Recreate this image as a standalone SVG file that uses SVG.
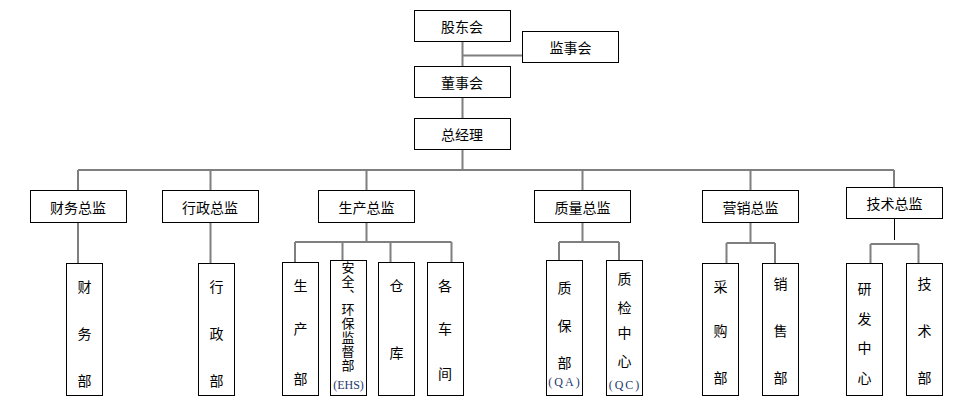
<svg xmlns="http://www.w3.org/2000/svg" width="961" height="407" viewBox="0 0 961 407">
<style>
.box{fill:#fff;stroke:#000;stroke-width:1}
.ln{stroke:#7f7f7f;stroke-width:2;fill:none}
.lk{stroke:#000;stroke-width:1;fill:none}
.t{font-family:"Noto Sans CJK SC","Noto Sans",sans-serif;font-size:14px;fill:#000;text-anchor:middle;dominant-baseline:central}
.v{font-family:"Noto Sans CJK SC","Noto Sans",sans-serif;font-size:13px;fill:#000;writing-mode:vertical-rl;text-anchor:start;letter-spacing:1px}
.e{font-family:"Liberation Serif",serif;font-size:12px;fill:#1f3a6e;text-anchor:middle;dominant-baseline:central}
</style>
<rect width="961" height="407" fill="#fff"/>
<g id="connectors">
<path class="ln" d="M462.5 41V118M462.5 55.5H522M462.5 149V170M78 170H894"/>
<path class="ln" d="M78 170V190M210.5 170V190M366.5 170V190M582.5 170V190M750.5 170V190M894 170V187"/>
<path class="ln" d="M78 222V263M210.5 222V263"/>
<path class="ln" d="M366.5 222V242M295 242H451.5M295 242V262M342.5 242V260M390.5 242V262M451.5 242V262"/>
<path class="ln" d="M582.5 222V242M559 242H619M559 242V260M619 242V260"/>
<path class="ln" d="M750.5 222V243M726.5 243H775M726.5 243V263M775 243V263"/>
<path class="lk" d="M894.5 218V240"/>
<path class="ln" d="M870.5 244H918.5M870.5 244V263M918.5 244V263"/>
</g>
<g id="n-gudonghui"><rect class="box" x="414.5" y="10.5" width="96" height="31"/><text class="t" x="462" y="26">股东会</text></g>
<g id="n-jianshihui"><rect class="box" x="522.5" y="31.5" width="96" height="31"/><text class="t" x="570.5" y="47">监事会</text></g>
<g id="n-dongshihui"><rect class="box" x="414.5" y="66.5" width="96" height="31"/><text class="t" x="462" y="82">董事会</text></g>
<g id="n-zongjingli"><rect class="box" x="414.5" y="118.5" width="96" height="31"/><text class="t" x="462" y="134">总经理</text></g>

<g id="n-caiwuzongjian"><rect class="box" x="30.5" y="190.5" width="96" height="32"/><text class="t" x="78" y="206.5">财务总监</text></g>
<g id="n-xingzhengzongjian"><rect class="box" x="162.5" y="190.5" width="96" height="32"/><text class="t" x="210" y="206.5">行政总监</text></g>
<g id="n-shengchanzongjian"><rect class="box" x="318.5" y="190.5" width="96" height="32"/><text class="t" x="366.5" y="206.5">生产总监</text></g>
<g id="n-zhiliangzongjian"><rect class="box" x="534.5" y="190.5" width="96" height="32"/><text class="t" x="582.5" y="206.5">质量总监</text></g>
<g id="n-yingxiaozongjian"><rect class="box" x="702.5" y="190.5" width="96" height="32"/><text class="t" x="750.5" y="206.5">营销总监</text></g>
<g id="n-jishuzongjian"><rect class="box" x="846.5" y="187.5" width="96" height="31"/><text class="t" x="894.5" y="203">技术总监</text></g>

<g id="n-caiwubu"><rect class="box" x="66.5" y="263.5" width="36" height="132"/><text class="t" x="84.5" y="286">财</text><text class="t" x="84.5" y="333">务</text><text class="t" x="84.5" y="380">部</text></g>
<g id="n-xingzhengbu"><rect class="box" x="198.5" y="263.5" width="36" height="132"/><text class="t" x="216.5" y="286">行</text><text class="t" x="216.5" y="333">政</text><text class="t" x="216.5" y="380">部</text></g>

<g id="n-shengchanbu"><rect class="box" x="282.5" y="262.5" width="36" height="133"/><text class="t" x="300.5" y="285">生</text><text class="t" x="300.5" y="328">产</text><text class="t" x="300.5" y="378">部</text></g>
<g id="n-ehs"><rect class="box" x="330.5" y="260.5" width="36" height="135"/>
<text class="v" x="348" y="261">安全、环保监督部</text><text class="e" x="348.5" y="385">(EHS)</text></g>
<g id="n-cangku"><rect class="box" x="378.5" y="262.5" width="36" height="133"/><text class="t" x="396.5" y="285">仓</text><text class="t" x="396.5" y="352">库</text></g>
<g id="n-gechejian"><rect class="box" x="427.5" y="262.5" width="36" height="133"/><text class="t" x="445" y="285">各</text><text class="t" x="445" y="328">车</text><text class="t" x="445" y="373">间</text></g>

<g id="n-zhibaobu"><rect class="box" x="546.5" y="260.5" width="36" height="135"/><text class="t" x="564.5" y="287">质</text><text class="t" x="564.5" y="325">保</text><text class="t" x="564.5" y="362">部</text><text class="e" x="565" y="382" letter-spacing="2">(QA)</text></g>
<g id="n-zhijianzhongxin"><rect class="box" x="606.5" y="260.5" width="36" height="135"/><text class="t" x="624.5" y="278">质</text><text class="t" x="624.5" y="307">检</text><text class="t" x="624.5" y="332">中</text><text class="t" x="624.5" y="360">心</text><text class="e" x="625" y="385" letter-spacing="2">(QC)</text></g>

<g id="n-caigoubu"><rect class="box" x="702.5" y="263.5" width="36" height="132"/><text class="t" x="720.5" y="286">采</text><text class="t" x="720.5" y="330">购</text><text class="t" x="720.5" y="377">部</text></g>
<g id="n-xiaoshoubu"><rect class="box" x="762.5" y="263.5" width="36" height="132"/><text class="t" x="780.5" y="283">销</text><text class="t" x="780.5" y="330">售</text><text class="t" x="780.5" y="377">部</text></g>
<g id="n-yanfazhongxin"><rect class="box" x="846.5" y="263.5" width="36" height="132"/><text class="t" x="864.5" y="288">研</text><text class="t" x="864.5" y="318">发</text><text class="t" x="864.5" y="347">中</text><text class="t" x="864.5" y="377">心</text></g>
<g id="n-jishubu"><rect class="box" x="906.5" y="263.5" width="36" height="132"/><text class="t" x="924.5" y="283">技</text><text class="t" x="924.5" y="330">术</text><text class="t" x="924.5" y="377">部</text></g>
</svg>
